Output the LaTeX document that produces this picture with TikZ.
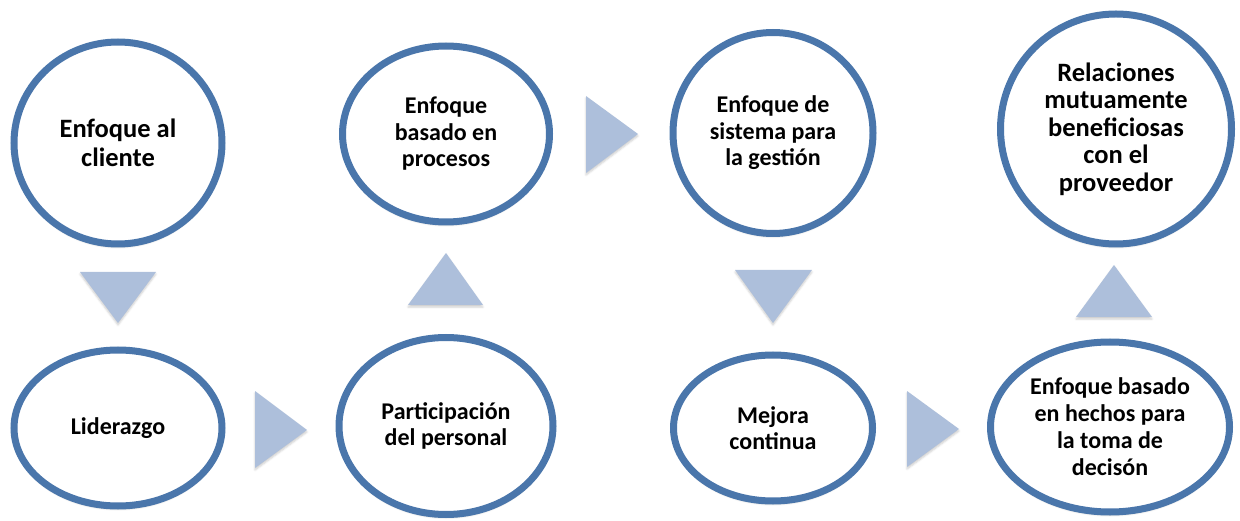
\documentclass[tikz,border=0pt]{standalone}
\usepackage{fontspec}
\setmainfont{Carlito}
\usetikzlibrary{shapes.geometric,shadows.blur}
\definecolor{ringblue}{HTML}{4A76AB}
\definecolor{arrowfill}{HTML}{ADBFDB}
\tikzset{
  ring/.style={ellipse, draw=ringblue, line width=7pt, fill=white, inner sep=0pt,
    align=center, font=\bfseries\fontsize{24}{26.5}\selectfont,
    blur shadow={shadow xshift=0pt, shadow yshift=-3pt, shadow blur steps=6, shadow opacity=25}},
  bigtext/.style={font=\bfseries\fontsize{26.5}{28.5}\selectfont},
  flowarrow/.style={fill=arrowfill, draw=none,
    blur shadow={shadow xshift=0pt, shadow yshift=-2pt, shadow blur steps=4, shadow opacity=20}}
}
\begin{document}
\begin{tikzpicture}[x=1pt,y=-1pt]
\useasboundingbox (0,0) rectangle (1240,521);
\node[ring, minimum width=208pt, minimum height=202pt, bigtext] (c1) at (118,143) {Enfoque al\\cliente};
\node[ring, minimum width=208pt, minimum height=156pt] (c2) at (118,428) {Liderazgo};
\node[ring, minimum width=207pt, minimum height=176pt] (c3) at (446,134) {Enfoque\\basado en\\procesos};
\node[ring, minimum width=214pt, minimum height=177pt] (c4) at (446,426) {Participación\\del personal};
\node[ring, minimum width=200pt, minimum height=201pt] (c5) at (773,133) {Enfoque de\\sistema para\\la gestión};
\node[ring, minimum width=199pt, minimum height=146pt] (c6) at (773,428) {Mejora\\continua};
\node[ring, minimum width=231pt, minimum height=230pt, font=\bfseries\fontsize{26.5}{27.5}\selectfont] (c7) at (1116,129) {Relaciones\\mutuamente\\beneficiosas\\con el\\proveedor};
\node[ring, minimum width=239pt, minimum height=170pt, font=\bfseries\fontsize{24}{27}\selectfont] (c8) at (1110,427) {Enfoque basado\\en hechos para\\la toma de\\decisón};
% arrows
\fill[flowarrow] (80,272) -- (156,272) -- (118,323) -- cycle;
\fill[flowarrow] (255,391) -- (255,468) -- (307,430) -- cycle;
\fill[flowarrow] (408,305) -- (483,305) -- (446,253) -- cycle;
\fill[flowarrow] (586,96) -- (586,173) -- (638,134) -- cycle;
\fill[flowarrow] (735,270) -- (812,270) -- (773,323) -- cycle;
\fill[flowarrow] (907,391) -- (907,467) -- (959,429) -- cycle;
\fill[flowarrow] (1076,317) -- (1152,317) -- (1114,265) -- cycle;
\end{tikzpicture}
\end{document}
